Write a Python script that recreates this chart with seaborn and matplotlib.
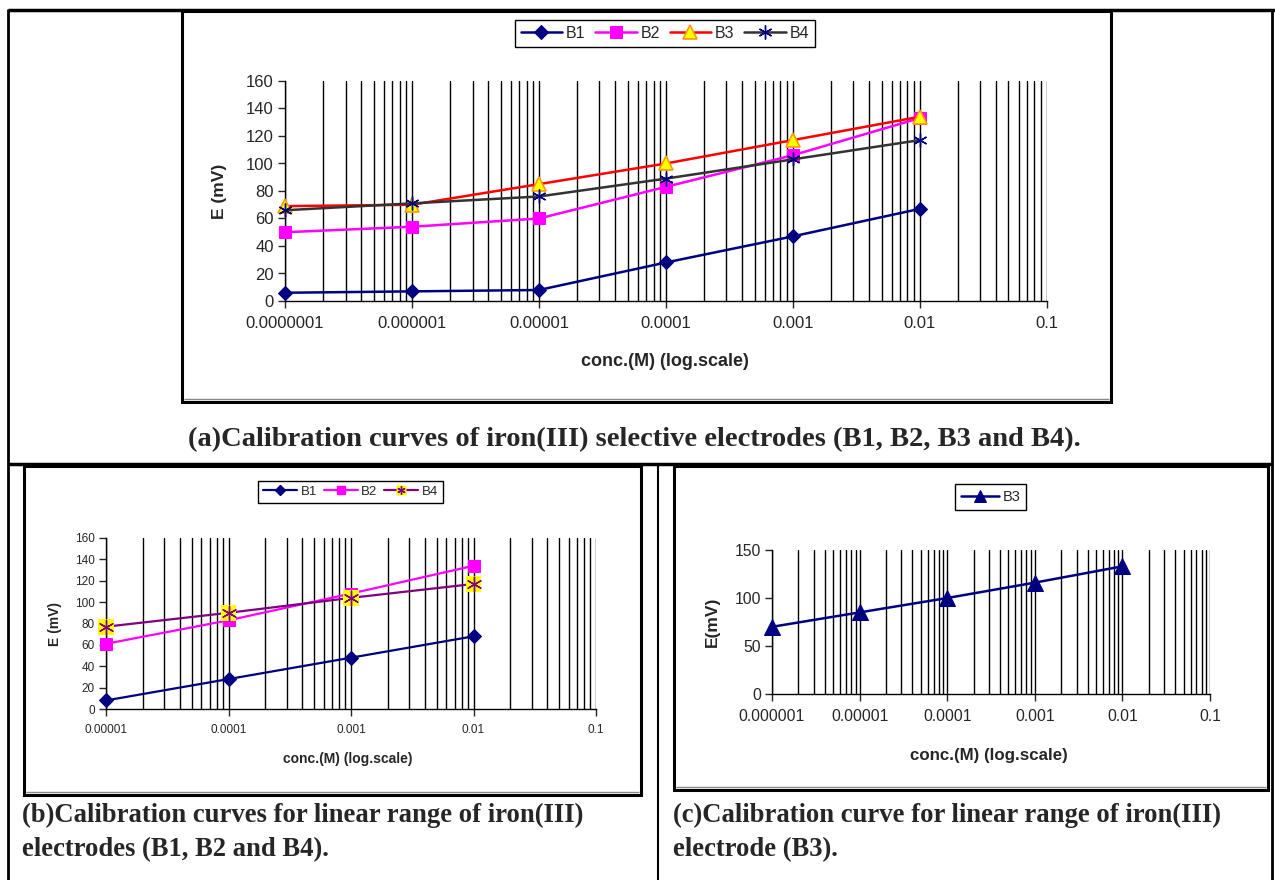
import numpy as np
import pandas as pd
import matplotlib
matplotlib.use("Agg")
import matplotlib.pyplot as plt
import seaborn as sns
from matplotlib.ticker import LogLocator, FixedLocator, FixedFormatter, NullFormatter
from matplotlib.lines import Line2D
from matplotlib.patches import Rectangle
from matplotlib.legend_handler import HandlerTuple

# ---------------- data ----------------
conc_a = [1e-7, 1e-6, 1e-5, 1e-4, 1e-3, 1e-2]
b1_a = [6, 7, 8, 28, 47, 67]
b2_a = [50, 54, 60, 83, 106, 133]
b3_a = [69, 70, 85, 100, 117, 134]
b4_a = [66, 71, 76, 89, 103, 117]

conc_b = [1e-5, 1e-4, 1e-3, 1e-2]
b1_b = [8, 28, 48, 68]
b2_b = [61, 83, 108, 134]
b4_b = [77, 90, 104, 117]

conc_c = [1e-6, 1e-5, 1e-4, 1e-3, 1e-2]
b3_c = [70, 85, 100, 116, 133]

xticks_a = [1e-7, 1e-6, 1e-5, 1e-4, 1e-3, 1e-2, 1e-1]
xlabels_a = ["0.0000001", "0.000001", "0.00001", "0.0001", "0.001", "0.01", "0.1"]
xticks_b = [1e-5, 1e-4, 1e-3, 1e-2, 1e-1]
xlabels_b = ["0.00001", "0.0001", "0.001", "0.01", "0.1"]
xticks_c = [1e-6, 1e-5, 1e-4, 1e-3, 1e-2, 1e-1]
xlabels_c = ["0.000001", "0.00001", "0.0001", "0.001", "0.01", "0.1"]
yticks_ab = [0, 20, 40, 60, 80, 100, 120, 140, 160]
yticks_c = [0, 50, 100, 150]

cap_a = "(a)Calibration curves of iron(III) selective electrodes (B1, B2, B3 and B4)."
cap_b = ["(b)Calibration curves for linear range of iron(III)", "electrodes (B1, B2 and B4)."]
cap_c = ["(c)Calibration curve for linear range of iron(III)", "electrode (B3)."]

# ---------------- style ----------------
sns.set_style("white")
plt.rcParams['font.family'] = ['Liberation Sans', 'DejaVu Sans']

W, H = 1275, 880
fig = plt.figure(figsize=(W / 100, H / 100), dpi=100)


def px_axes(l, t, r, b):
    return fig.add_axes([l / W, 1 - b / H, (r - l) / W, (b - t) / H])


def hline(y, x0, x1, lw=2.0, color="black"):
    fig.add_artist(Line2D([x0 / W, x1 / W], [1 - y / H, 1 - y / H], color=color, lw=lw,
                          transform=fig.transFigure, solid_capstyle="butt"))


def vline(x, y0, y1, lw=2.0, color="black"):
    fig.add_artist(Line2D([x / W, x / W], [1 - y0 / H, 1 - y1 / H], color=color, lw=lw,
                          transform=fig.transFigure, solid_capstyle="butt"))


def frame(l, t, r, b):
    fig.add_artist(Rectangle((l / W, 1 - b / H), (r - l) / W, (b - t) / H, fill=False,
                             edgecolor="black", lw=2.2, transform=fig.transFigure))
    hline(b - 3, l + 2, r - 2, lw=1.0, color="#888888")


def style_axes(ax, xlim, ylim, xticks, xlabels, yticks, fs):
    ax.set_xscale("log")
    ax.set_xlim(*xlim)
    ax.set_ylim(*ylim)
    ax.xaxis.set_major_locator(FixedLocator(xticks))
    ax.xaxis.set_major_formatter(FixedFormatter(xlabels))
    ax.xaxis.set_minor_locator(LogLocator(base=10, subs=np.arange(2, 10), numticks=20))
    ax.xaxis.set_minor_formatter(NullFormatter())
    ax.set_yticks(yticks)
    ax.grid(True, axis="x", which="both", color="black", lw=1.0)
    ax.grid(False, axis="y")
    ax.tick_params(axis="x", which="major", direction="out", length=5, width=1, labelsize=fs, pad=6)
    ax.tick_params(axis="x", which="minor", length=0)
    ax.tick_params(axis="y", direction="out", length=5, width=1, labelsize=fs, pad=3, left=True)
    ax.tick_params(axis="x", bottom=True)
    for s in ["top", "right"]:
        ax.spines[s].set_visible(False)
    for s in ["left", "bottom"]:
        ax.spines[s].set_color("black")
        ax.spines[s].set_linewidth(1.0)
    ax.set_facecolor("white")


# ---------------- table lines ----------------
hline(10, 8, 1275, lw=2.5)
vline(8, 9, 880, lw=2.0)
vline(1272, 9, 880, lw=2.0)
hline(464, 8, 1273, lw=2.5)
vline(658, 464, 880, lw=1.5)

# ---------------- panel (a) ----------------
frame(182, 11, 1111, 402)
axa = px_axes(285, 81, 1046.7, 301)
style_axes(axa, (1e-7, 1e-1), (0, 160), xticks_a, xlabels_a, yticks_ab, 12)
sns.lineplot(x=conc_a, y=b1_a, ax=axa, color="#000080", lw=1.8, marker="D", markersize=7,
             markeredgecolor="#000080", label="B1", zorder=5, clip_on=False)
sns.lineplot(x=conc_a, y=b2_a, ax=axa, color="#FF00FF", lw=1.8, marker="s", markersize=9,
             markeredgecolor="#FF00FF", label="B2", zorder=5, clip_on=False)
sns.lineplot(x=conc_a, y=b3_a, ax=axa, color="#FF0000", lw=1.8, marker="^", markersize=10,
             markerfacecolor="#FFFF00", markeredgecolor="#FF9900", markeredgewidth=1.2,
             label="B3", zorder=6, clip_on=False)
sns.lineplot(x=conc_a, y=b4_a, ax=axa, color="#333333", lw=1.8, marker=(6, 2, 0), markersize=10,
             markeredgecolor="#000080", markeredgewidth=1.0, label="B4", zorder=7, clip_on=False)
axa.set_xlabel("conc.(M) (log.scale)", fontsize=13, fontweight="bold")
axa.set_ylabel("E (mV)", fontsize=12.5, fontweight="bold")
axa.xaxis.set_label_coords(0.499, -0.236)
axa.yaxis.set_label_coords(-0.076, 0.5)
ha, la = axa.get_legend_handles_labels()
axa.legend(ha, la, loc="center", bbox_to_anchor=(665 / W, 1 - 33.5 / H),
           bbox_transform=fig.transFigure, ncol=4, frameon=True, fancybox=False,
           edgecolor="black", framealpha=1, fontsize=11.5, handlelength=2.6,
           handletextpad=0.25, columnspacing=0.6, borderpad=0.35)
axa.get_legend().get_frame().set_linewidth(1.0)

fig.text(188 / W, 1 - 440 / H, cap_a, family="Liberation Serif", fontweight="bold",
         fontsize=20.5, ha="left", va="center")

# ---------------- panel (b) ----------------
frame(24, 466, 641, 795)
axb = px_axes(106, 538, 596, 709)
style_axes(axb, (1e-5, 1e-1), (0, 160), xticks_b, xlabels_b, yticks_ab, 8.5)
sns.lineplot(x=conc_b, y=b1_b, ax=axb, color="#000080", lw=1.6, marker="D", markersize=7,
             markeredgecolor="#000080", zorder=5, clip_on=False)
sns.lineplot(x=conc_b, y=b2_b, ax=axb, color="#FF00FF", lw=1.6, marker="s", markersize=9,
             markeredgecolor="#FF00FF", zorder=5, clip_on=False)
sns.lineplot(x=conc_b, y=b4_b, ax=axb, color="#800080", lw=1.6, zorder=6, clip_on=False)
sns.scatterplot(x=conc_b, y=b4_b, ax=axb, marker="s", s=130, color="#FFFF00",
                edgecolor="none", zorder=7, clip_on=False)
sns.scatterplot(x=conc_b, y=b4_b, ax=axb, marker=(6, 2, 0), s=110, color="#800080",
                linewidth=1.0, zorder=8, clip_on=False)
axb.set_xlabel("conc.(M) (log.scale)", fontsize=10, fontweight="bold")
axb.set_ylabel("E (mV)", fontsize=10, fontweight="bold")
axb.xaxis.set_label_coords(0.494, -0.251)
axb.yaxis.set_label_coords(-0.09, 0.5)
hb = [Line2D([], [], color="#000080", lw=1.6, marker="D", markersize=5),
      Line2D([], [], color="#FF00FF", lw=1.6, marker="s", markersize=6),
      (Line2D([], [], color="#800080", lw=1.6),
       Line2D([], [], ls="none", marker="s", markersize=7, markerfacecolor="#FFFF00",
              markeredgecolor="none"),
       Line2D([], [], ls="none", marker=(6, 2, 0), markersize=6, markeredgecolor="#800080"))]
lb = axb.legend(hb, ["B1", "B2", "B4"], handler_map={tuple: HandlerTuple(ndivide=1, pad=0)},
                loc="center", bbox_to_anchor=(350.5 / W, 1 - 492 / H),
                bbox_transform=fig.transFigure, ncol=3, frameon=True, fancybox=False,
                edgecolor="black", framealpha=1, fontsize=9.5, handlelength=2.6,
                handletextpad=0.25, columnspacing=0.5, borderpad=0.35)
lb.get_frame().set_linewidth(1.0)

for i, line in enumerate(cap_b):
    fig.text(22 / W, 1 - (815 + 35 * i) / H, line, family="Liberation Serif",
             fontweight="bold", fontsize=19.2, ha="left", va="center")

# ---------------- panel (c) ----------------
frame(674, 466, 1268, 790)
axc = px_axes(772, 550, 1210, 694)
style_axes(axc, (1e-6, 1e-1), (0, 150), xticks_c, xlabels_c, yticks_c, 11.3)
sns.lineplot(x=conc_c, y=b3_c, ax=axc, color="#000080", lw=1.8, marker="^", markersize=11,
             markeredgecolor="#000080", label="B3", zorder=5, clip_on=False)
axc.set_xlabel("conc.(M) (log.scale)", fontsize=12.2, fontweight="bold")
axc.set_ylabel("E(mV)", fontsize=12.5, fontweight="bold")
axc.xaxis.set_label_coords(0.495, -0.375)
axc.yaxis.set_label_coords(-0.119, 0.5)
lc = axc.legend(loc="center", bbox_to_anchor=(990.5 / W, 1 - 497 / H),
                bbox_transform=fig.transFigure, frameon=True, fancybox=False,
                edgecolor="black", framealpha=1, fontsize=10.5, handlelength=2.6,
                handletextpad=0.25, borderpad=0.4, markerscale=0.8)
lc.get_frame().set_linewidth(1.0)

for i, line in enumerate(cap_c):
    fig.text(673 / W, 1 - (815 + 35 * i) / H, line, family="Liberation Serif",
             fontweight="bold", fontsize=19.2, ha="left", va="center")

fig.savefig("out.png", dpi=100)
